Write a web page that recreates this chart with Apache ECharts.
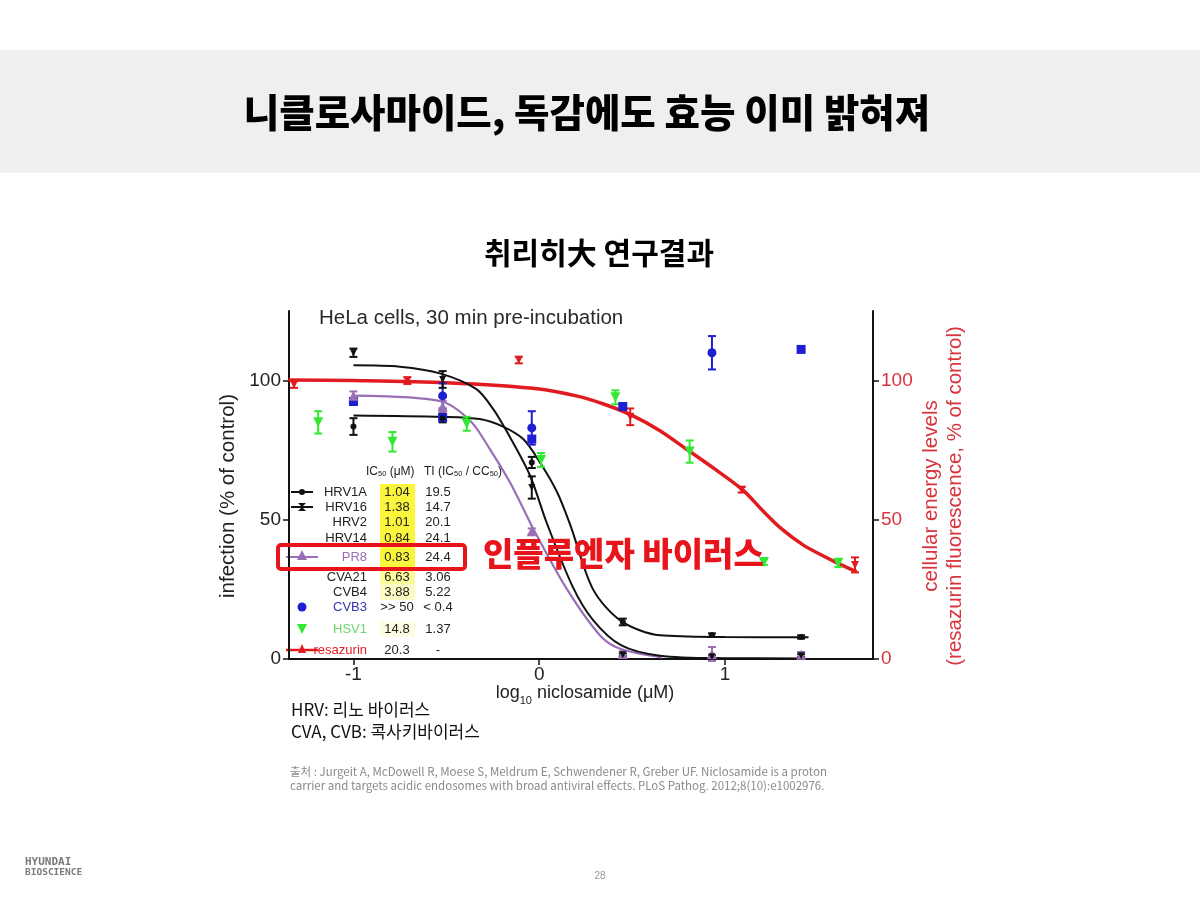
<!DOCTYPE html>
<html><head><meta charset="utf-8">
<script src="https://cdn.jsdelivr.net/npm/echarts@6/dist/echarts.min.js"></script>
<style>html,body{margin:0;padding:0;background:#fff;}#c{width:1200px;height:900px;}</style>
</head><body><div id="c"></div>
<script>
// ---------- data ----------
const xTickValues = [-1, 0, 1];
const yTickValues = [0, 50, 100];

const doseHRV = [-1.0, -0.52, -0.04, 0.45, 0.93, 1.41];
const hrv1aValues = [83.5, 86.5, 70.6, 13.3, 8.6, 7.9];
const hrv1aErrors = [3, 1.5, 2, 1.2, 0.6, 0.6];
const hrv16Values = [110, 100.4, 61.6, 1.5, 0.8, 1.2];
const hrv16Errors = [1.5, 3, 4, 0.5, 0.5, 0.5];
const pr8Values = [94.6, 90.7, 45.9, 1.8, 1.8, 1.5];
const pr8Errors = [1.5, 2, 1, 1, 2.5, 1];

const cvb3CircleDose = [-0.52, -0.04, 0.93];
const cvb3CircleValues = [94.5, 83, 110];
const cvb3CircleErrors = [4.5, 6, 6];
const cvb3SquareDose = [-1.0, -0.52, -0.04, 0.45, 1.41];
const cvb3SquareValues = [92.5, 86.7, 79, 90.7, 111.2];

const doseHSV1 = [-1.19, -0.79, -0.39, 0.01, 0.41, 0.81, 1.21, 1.61];
const hsv1Values = [85, 78, 84.5, 71.5, 94, 74.5, 34.8, 34.5];
const hsv1Errors = [4, 3.5, 2.5, 2.5, 2.5, 4, 1, 1.5];

const doseResazurin = [-1.32, -0.71, -0.11, 0.49, 1.09, 1.70];
const resazurinValues = [98.6, 100, 107.4, 87, 60.8, 33.8];
const resazurinErrors = [1.2, 1.2, 1.2, 3, 1, 2.7];

// fitted curves
const curveHRV16X = [-1.0, -0.75, -0.53, -0.34, -0.25, -0.16, -0.05, 0.04, 0.18, 0.29, 0.44, 0.65, 1.0, 1.41];
const curveHRV16Y = [105.5, 105, 102.5, 97, 90, 80, 66, 49, 26, 14, 5, 1.2, 0.3, 0.2];
const curveHRV1AX = [-1.0, -0.52, -0.32, -0.195, -0.086, 0.005, 0.096, 0.168, 0.29, 0.44, 0.65, 1.0, 1.45];
const curveHRV1AY = [87.5, 87, 86.2, 83.5, 79, 70.5, 60, 48, 25, 13.7, 8.5, 7.9, 7.8];
const curvePR8X = [-1.0, -0.53, -0.37, -0.265, -0.157, -0.076, -0.03, 0.15, 0.33, 0.44, 0.66];
const curvePR8Y = [94.6, 92.6, 85.5, 75.3, 63.4, 52.7, 46.5, 25, 8.3, 3.6, 0.6];
const curveResX = [-1.35, -1.0, -0.5, 0.0, 0.2, 0.35, 0.5, 0.65, 0.79, 0.95, 1.1, 1.2, 1.3, 1.42, 1.53, 1.62, 1.71];
const curveResY = [100.2, 100, 99.2, 97, 94.5, 91.5, 87.5, 82, 75.5, 68, 60.5, 53.5, 47, 41, 37, 34, 31.3];

// legend table
const tableNames = ['HRV1A', 'HRV16', 'HRV2', 'HRV14', 'PR8', 'CVA21', 'CVB4', 'CVB3', 'HSV1', 'resazurin'];
const tableIC50 = ['1.04', '1.38', '1.01', '0.84', '0.83', '6.63', '3.88', '>> 50', '14.8', '20.3'];
const tableTI = ['19.5', '14.7', '20.1', '24.1', '24.4', '3.06', '5.22', '< 0.4', '1.37', '-'];

// ---------- styles ----------
const BLACK = '#111111', PURPLE = '#9a6fb6', BLUE = '#1e1ed2', GREEN = '#33e833', RED = '#e11b1f', AXRED = '#d8343c';
const LAT = 'Liberation Sans, Arial, sans-serif';
const KR = '"Noto Sans CJK KR", sans-serif';

function pairs(xs, ys) { return xs.map((x, i) => [x, ys[i]]); }
function triples(xs, ys, es) { return xs.map((x, i) => [x, ys[i], es[i]]); }

function errSeries(xs, ys, es, color, yAxisIndex) {
  return {
    type: 'custom', yAxisIndex: yAxisIndex || 0, z: 4, silent: true,
    data: triples(xs, ys, es),
    renderItem: function (params, api) {
      const x = api.value(0), y = api.value(1), e = api.value(2);
      const t = api.coord([x, y + e]), b = api.coord([x, y - e]);
      const w = 4, st = { stroke: color, lineWidth: 2 };
      return { type: 'group', children: [
        { type: 'line', shape: { x1: t[0], y1: t[1], x2: b[0], y2: b[1] }, style: st },
        { type: 'line', shape: { x1: t[0] - w, y1: t[1], x2: t[0] + w, y2: t[1] }, style: st },
        { type: 'line', shape: { x1: b[0] - w, y1: b[1], x2: b[0] + w, y2: b[1] }, style: st }
      ] };
    }
  };
}
function curve(xs, ys, color, width, yAxisIndex) {
  return { type: 'line', data: pairs(xs, ys), yAxisIndex: yAxisIndex || 0, showSymbol: false, smooth: 0.3,
    lineStyle: { color: color, width: width }, z: 2, silent: true };
}
function marks(xs, ys, color, symbol, size, yAxisIndex, rotate) {
  return { type: 'scatter', data: pairs(xs, ys), yAxisIndex: yAxisIndex || 0, symbol: symbol, symbolSize: size,
    symbolRotate: rotate || 0, itemStyle: { color: color, opacity: 1 }, z: 5, silent: true };
}

// ---------- graphics (page text, table) ----------
const g = [];
g.push({ type: 'rect', shape: { x: 0, y: 50, width: 1200, height: 123 }, style: { fill: '#efefef' }, z: -10 });
g.push({ type: 'text', style: { x: 587, y: 112, text: '니클로사마이드, 독감에도 효능 이미 밝혀져', font: '900 38.5px ' + KR, fill: '#000', textAlign: 'center', textVerticalAlign: 'middle' } });
g.push({ type: 'text', style: { x: 599, y: 253, text: '취리히大 연구결과', font: 'bold 30px ' + KR, fill: '#000', textAlign: 'center', textVerticalAlign: 'middle' } });
g.push({ type: 'text', style: { x: 319, y: 318, text: 'HeLa cells, 30 min pre-incubation', font: '20.5px ' + LAT, fill: '#2a2a2a', textAlign: 'left', textVerticalAlign: 'middle' } });

// axis names
g.push({ type: 'text', x: 228, y: 496, rotation: Math.PI / 2, style: { x: 0, y: 0, text: 'infection (% of control)', font: '20.5px ' + LAT, fill: '#222', textAlign: 'center', textVerticalAlign: 'middle' } });
g.push({ type: 'text', x: 931, y: 496, rotation: Math.PI / 2, style: { x: 0, y: 0, text: 'cellular energy levels', font: '20.5px ' + LAT, fill: AXRED, textAlign: 'center', textVerticalAlign: 'middle' } });
g.push({ type: 'text', x: 955, y: 496, rotation: Math.PI / 2, style: { x: 0, y: 0, text: '(resazurin fluorescence, % of control)', font: '20.5px ' + LAT, fill: AXRED, textAlign: 'center', textVerticalAlign: 'middle' } });
g.push({ type: 'text', style: { x: 585, y: 693, text: '{a|log}{s|10}{a| niclosamide (μM)}', rich: { a: { font: '18px ' + LAT, fill: '#222', lineHeight: 26, verticalAlign: 'middle' }, s: { font: '11px ' + LAT, fill: '#222', lineHeight: 26, verticalAlign: 'bottom' } }, textAlign: 'center', textVerticalAlign: 'middle' } });

// table
const rowY = [492, 507, 522, 538, 557, 577, 592, 607, 629, 650];
const nameColors = ['#222', '#222', '#222', '#222', PURPLE, '#222', '#222', '#3535b0', '#66d866', RED];
const hiColors = ['#fbf53b', '#fbf53b', '#fbf53b', '#fbf53b', '#fbf53b', '#fdfa9a', '#fdfbc4', null, '#fdfde4', null];
hiColors.forEach((c, i) => {
  if (c) g.push({ type: 'rect', shape: { x: 380, y: rowY[i] - 8, width: 35, height: (i < 9 && hiColors[i + 1] ? rowY[i + 1] - rowY[i] : 16) }, style: { fill: c }, z: -1 });
});
const hdrRich = { a: { font: '12px ' + LAT, fill: '#222' }, s: { font: '7.5px ' + LAT, fill: '#222', padding: [4, 0, 0, 0] } };
g.push({ type: 'text', style: { x: 366, y: 472, text: '{a|IC}{s|50}{a| (μM)}', rich: hdrRich, textAlign: 'left', textVerticalAlign: 'middle' } });
g.push({ type: 'text', style: { x: 424, y: 472, text: '{a|TI (IC}{s|50}{a| / CC}{s|50}{a|)}', rich: hdrRich, textAlign: 'left', textVerticalAlign: 'middle' } });
tableNames.forEach((n, i) => {
  g.push({ type: 'text', style: { x: 367, y: rowY[i], text: n, font: '13px ' + LAT, fill: nameColors[i], textAlign: 'right', textVerticalAlign: 'middle' } });
  g.push({ type: 'text', style: { x: 397, y: rowY[i], text: tableIC50[i], font: '13px ' + LAT, fill: '#222', textAlign: 'center', textVerticalAlign: 'middle' } });
  g.push({ type: 'text', style: { x: 438, y: rowY[i], text: tableTI[i], font: '13px ' + LAT, fill: '#222', textAlign: 'center', textVerticalAlign: 'middle' } });
});
// legend symbols
g.push({ type: 'line', shape: { x1: 291, y1: rowY[0], x2: 313, y2: rowY[0] }, style: { stroke: BLACK, lineWidth: 2 } });
g.push({ type: 'circle', shape: { cx: 302, cy: rowY[0], r: 3 }, style: { fill: BLACK } });
g.push({ type: 'line', shape: { x1: 291, y1: rowY[1], x2: 313, y2: rowY[1] }, style: { stroke: BLACK, lineWidth: 2 } });
g.push({ type: 'polygon', shape: { points: [[298, rowY[1] - 4], [306, rowY[1] - 4], [302, rowY[1]], [306, rowY[1] + 4], [298, rowY[1] + 4], [302, rowY[1]]] }, style: { fill: BLACK } });
g.push({ type: 'line', shape: { x1: 286, y1: rowY[4], x2: 318, y2: rowY[4] }, style: { stroke: PURPLE, lineWidth: 2 } });
g.push({ type: 'polygon', shape: { points: [[302, rowY[4] - 7], [307, rowY[4] + 3], [297, rowY[4] + 3]] }, style: { fill: PURPLE } });
g.push({ type: 'circle', shape: { cx: 302, cy: rowY[7], r: 4.5 }, style: { fill: BLUE } });
g.push({ type: 'polygon', shape: { points: [[297, rowY[8] - 5], [307, rowY[8] - 5], [302, rowY[8] + 5]] }, style: { fill: GREEN } });
g.push({ type: 'line', shape: { x1: 286, y1: rowY[9], x2: 318, y2: rowY[9] }, style: { stroke: RED, lineWidth: 2.5 } });
g.push({ type: 'polygon', shape: { points: [[302, rowY[9] - 6], [306, rowY[9] + 3], [298, rowY[9] + 3]] }, style: { fill: RED } });

// highlight box and annotation
g.push({ type: 'rect', shape: { x: 278, y: 545, width: 187, height: 24, r: 3 }, style: { fill: 'none', stroke: '#e8141b', lineWidth: 4 }, z: 10 });
g.push({ type: 'text', style: { x: 483, y: 553, text: '인플루엔자 바이러스', font: '900 33px ' + KR, fill: '#e8141b', textAlign: 'left', textVerticalAlign: 'middle' }, z: 10 });

// notes
g.push({ type: 'text', style: { x: 291, y: 710, text: 'HRV: 리노 바이러스', font: '17px ' + KR, fill: '#111', textAlign: 'left', textVerticalAlign: 'middle' } });
g.push({ type: 'text', style: { x: 291, y: 732, text: 'CVA, CVB: 콕사키바이러스', font: '17px ' + KR, fill: '#111', textAlign: 'left', textVerticalAlign: 'middle' } });
g.push({ type: 'text', style: { x: 290, y: 772, text: '출처 : Jurgeit A, McDowell R, Moese S, Meldrum E, Schwendener R, Greber UF. Niclosamide is a proton', font: '11.5px ' + KR, fill: '#8a8a8a', textAlign: 'left', textVerticalAlign: 'middle' } });
g.push({ type: 'text', style: { x: 290, y: 786, text: 'carrier and targets acidic endosomes with broad antiviral effects. PLoS Pathog. 2012;8(10):e1002976.', font: '11.5px ' + KR, fill: '#8a8a8a', textAlign: 'left', textVerticalAlign: 'middle' } });

// footer
g.push({ type: 'text', style: { x: 25, y: 862, text: 'HYUNDAI', font: 'bold 11px DejaVu Sans Mono, monospace', fill: '#7a7a7a', textAlign: 'left', textVerticalAlign: 'middle' } });
g.push({ type: 'text', style: { x: 25, y: 873, text: 'BIOSCIENCE', font: 'bold 9.5px DejaVu Sans Mono, monospace', fill: '#7a7a7a', textAlign: 'left', textVerticalAlign: 'middle' } });
g.push({ type: 'text', style: { x: 600, y: 876, text: '28', font: '10px ' + LAT, fill: '#999', textAlign: 'center', textVerticalAlign: 'middle' } });

// ---------- chart ----------
const axisLineStyle = { show: true, onZero: false, lineStyle: { color: '#111', width: 2 } };
const option = {
  animation: false,
  backgroundColor: '#fff',
  grid: { left: 289, right: 327, top: 311, bottom: 241, containLabel: false },
  xAxis: {
    type: 'value', min: -1.347, max: 1.797,
    axisLine: axisLineStyle,
    axisTick: { show: true, customValues: xTickValues, length: 6, inside: false, lineStyle: { color: '#111', width: 1.5 } },
    axisLabel: { customValues: xTickValues, fontFamily: LAT, fontSize: 19, color: '#222', margin: 6 },
    splitLine: { show: false }
  },
  yAxis: [{
    type: 'value', min: 0, max: 125, position: 'left',
    axisLine: axisLineStyle,
    axisTick: { show: true, customValues: yTickValues, length: 6, lineStyle: { color: '#111', width: 1.5 } },
    axisLabel: { customValues: yTickValues, fontFamily: LAT, fontSize: 19, color: '#222', margin: 8 },
    splitLine: { show: false }
  }, {
    type: 'value', min: 0, max: 125, position: 'right',
    axisLine: axisLineStyle,
    axisTick: { show: true, customValues: yTickValues, length: 6, lineStyle: { color: '#111', width: 1.5 } },
    axisLabel: { customValues: yTickValues, fontFamily: LAT, fontSize: 19, color: AXRED, margin: 8 },
    splitLine: { show: false }
  }],
  graphic: { elements: g },
  series: [
    curve(curveResX, curveResY, RED, 3.5, 1),
    curve(curvePR8X, curvePR8Y, PURPLE, 2.2),
    curve(curveHRV16X, curveHRV16Y, BLACK, 2),
    curve(curveHRV1AX, curveHRV1AY, BLACK, 2),
    errSeries(doseResazurin, resazurinValues, resazurinErrors, RED, 1),
    marks(doseResazurin, resazurinValues, RED, 'triangle', 8, 1, 180),
    errSeries(doseHSV1, hsv1Values, hsv1Errors, GREEN),
    marks(doseHSV1, hsv1Values, GREEN, 'triangle', 10, 0, 180),
    marks(cvb3SquareDose, cvb3SquareValues, BLUE, 'rect', 9),
    errSeries(cvb3CircleDose, cvb3CircleValues, cvb3CircleErrors, BLUE),
    marks(cvb3CircleDose, cvb3CircleValues, BLUE, 'circle', 9),
    errSeries(doseHRV, pr8Values, pr8Errors, PURPLE),
    marks(doseHRV, pr8Values, PURPLE, 'triangle', 10),
    errSeries(doseHRV, hrv16Values, hrv16Errors, BLACK),
    marks(doseHRV, hrv16Values, BLACK, 'triangle', 7, 0, 180),
    errSeries(doseHRV, hrv1aValues, hrv1aErrors, BLACK),
    marks(doseHRV, hrv1aValues, BLACK, 'circle', 6)
  ]
};
const chart = echarts.init(document.getElementById('c'), null, { renderer: 'canvas', width: 1200, height: 900 });
chart.setOption(option);
</script></body></html>
